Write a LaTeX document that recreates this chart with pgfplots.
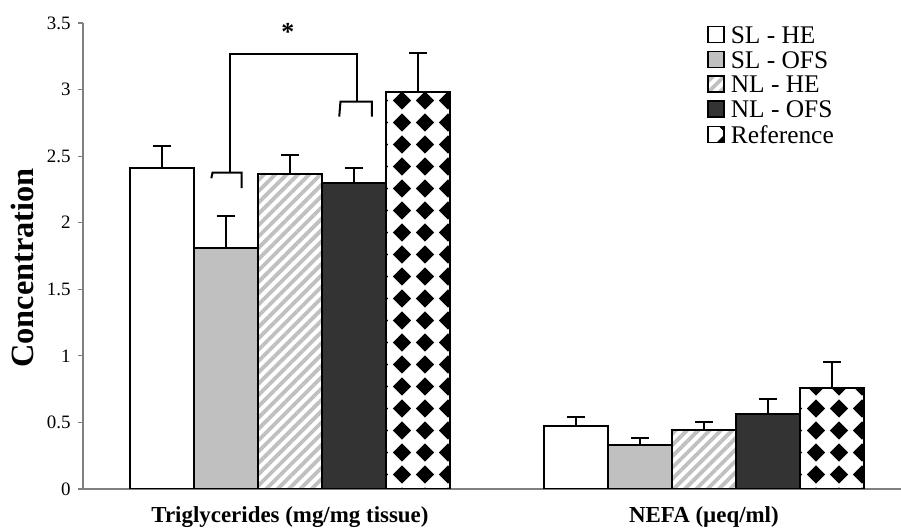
\documentclass[border=0pt]{standalone}
\usepackage{pgfplots}
\pgfplotsset{compat=1.18}
\usepackage{pgfplotstable}
\usepackage{fontspec}
\setmainfont{Liberation Serif}
\usetikzlibrary{patterns,patterns.meta}

\definecolor{lightgr}{RGB}{192,192,192}
\definecolor{darkgr}{RGB}{51,51,51}
\definecolor{axisgr}{RGB}{128,128,128}

% black diamonds on a white ground
\tikzdeclarepattern{
  name=diamonds,
  type=uncolored,
  bottom left={(0bp,0bp)},
  top right={(23bp,22bp)},
  tile size={(23bp,22bp)},
  code={
    \fill (11.5bp,1.5bp) -- (21bp,11bp) -- (11.5bp,20.5bp) -- (2bp,11bp) -- cycle;
    \fill (8bp,7.5bp) rectangle (15bp,14.5bp);
  }
}

% x = 0: Triglycerides, x = 1: NEFA
\pgfplotstableread{
x y err
0 2.41 0.167
1 0.473 0.070
}\slhe
\pgfplotstableread{
x y err
0 1.808 0.245
1 0.331 0.050
}\slofs
\pgfplotstableread{
x y err
0 2.364 0.146
1 0.443 0.063
}\nlhe
\pgfplotstableread{
x y err
0 2.297 0.113
1 0.563 0.111
}\nlofs
\pgfplotstableread{
x y err
0 2.978 0.300
1 0.756 0.196
}\reference

\begin{document}
\begin{tikzpicture}
\useasboundingbox (0,0) rectangle (901bp,529bp);
\begin{axis}[
  at={(83bp,40bp)}, anchor=south west,
  scale only axis,
  width=818bp, height=466bp,
  xmin=-0.5, xmax=1.476,
  ymin=0, ymax=3.5,
  ytick={0,0.5,...,3.5},
  xtick={0,1},
  xticklabels={Triglycerides (mg/mg tissue), NEFA (µeq/ml)},
  major x tick style={draw=none},
  extra x ticks={0.5},
  extra x tick labels={},
  extra x tick style={major tick length=5bp},
  axis lines*=left,
  axis line style={draw=axisgr, line width=1.2bp},
  tick style={draw=axisgr, line width=1.2bp},
  tick align=outside,
  major tick length=5bp,
  /pgf/number format/assume math mode=true,
  yticklabel style={font=\fontsize{19}{22}\selectfont, xshift=-4bp},
  xticklabel style={font=\fontsize{23}{26}\bfseries, yshift=-9bp},
  ylabel={\textbf{Concentration}},
  ylabel style={font=\fontsize{32.5}{35}\selectfont,
    at={(axis description cs:-0.0746,0.474)}, anchor=center},
  ybar=0pt,
  bar width=0.155,
  bars/.style={draw=black, line width=2bp},
  error bars/y dir=plus,
  error bars/y explicit,
  error bars/error bar style={black, line width=2bp},
  error bars/error mark options={black, line width=2bp, mark size=9bp, rotate=90},
  legend cell align=left,
  legend style={
    at={(axis description cs:0.763,0.995)}, anchor=north west,
    draw=none, fill=none,
    font=\fontsize{25.5}{27}\selectfont,
    inner sep=0pt, row sep=4.5bp, column sep=5bp,
    nodes={inner sep=1bp},
  },
  legend image code/.code={
    \draw[#1, draw=black, line width=1.5bp] (0bp,-7bp) rectangle (16bp,9bp);
  },
]
\addplot[bars, bar shift=-0.31, fill=white] table[x=x, y=y, y error=err] {\slhe};
\addplot[bars, bar shift=-0.155, fill=lightgr] table[x=x, y=y, y error=err] {\slofs};
\addplot[bars, bar shift=0, fill=white,
  postaction={pattern={Lines[angle=45, distance=8bp, line width=3.8bp]}, pattern color=lightgr}]
  table[x=x, y=y, y error=err] {\nlhe};
\addplot[bars, bar shift=0.155, fill=darkgr] table[x=x, y=y, y error=err] {\nlofs};
\addplot[bars, bar shift=0.31, fill=white,
  postaction={pattern=diamonds, pattern color=black}]
  table[x=x, y=y, y error=err] {\reference};
\legend{SL - HE, SL - OFS, NL - HE, NL - OFS, Reference}

% significance bracket between SL - OFS and NL - OFS
\draw[black, line width=2bp]
  (axis cs:-0.145,2.377) -- (axis cs:-0.145,3.265)
  -- (axis cs:0.161,3.265) -- (axis cs:0.161,2.91);
\draw[black, line width=2bp]
  (axis cs:-0.190,2.334) -- (axis cs:-0.187,2.377)
  -- (axis cs:-0.117,2.377) -- (axis cs:-0.117,2.259);
\draw[black, line width=2bp]
  (axis cs:0.119,2.797) -- (axis cs:0.122,2.91)
  -- (axis cs:0.198,2.91) -- (axis cs:0.198,2.797);
\node[font=\fontsize{26}{28}\bfseries] at (axis cs:-0.005,3.43) {*};
\end{axis}
\end{tikzpicture}
\end{document}
